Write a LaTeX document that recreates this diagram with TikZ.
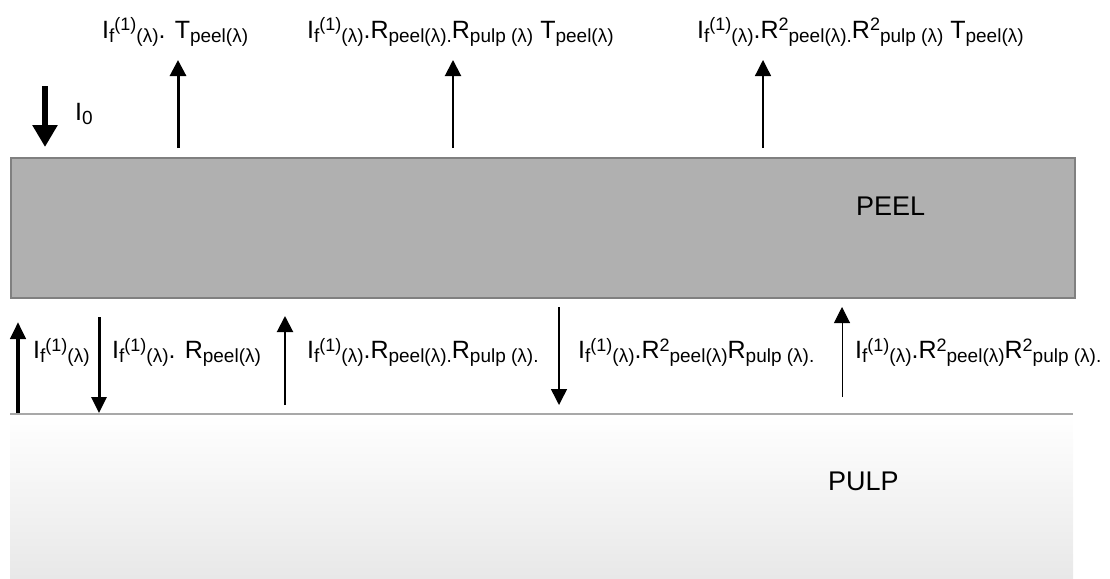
\documentclass[tikz,border=0pt]{standalone}
\usepackage{fontspec}
\setmainfont{Liberation Sans}
\usetikzlibrary{arrows.meta}
\newcommand\lo[1]{\raisebox{-4.5pt}{\fontsize{19}{19}\selectfont #1}}
\newcommand\hi[1]{\raisebox{7pt}{\fontsize{18}{18}\selectfont #1}}
\newcommand\If{I\lo{f}\hi{(1)}\lo{(λ)}}
\definecolor{peelfill}{HTML}{B0B0B0}
\definecolor{peeledge}{HTML}{808080}
\definecolor{pulpline}{HTML}{A8A8A8}
\definecolor{pulpbot}{HTML}{E8E8E8}
\begin{document}
\begin{tikzpicture}[x=1pt,y=-1pt,
  lbl/.style={anchor=base west,inner sep=0pt,font=\fontsize{25}{30}\selectfont},
  big/.style={anchor=base west,inner sep=0pt,font=\fontsize{27}{32}\selectfont},
  ray/.style={line width=#1,-{Triangle[width=16pt,length=16pt]}}]
\useasboundingbox (0,0) rectangle (1110,578);
% pulp
\shade[top color=white,bottom color=pulpbot] (10,414) rectangle (1073,578);
\draw[pulpline,line width=1.5pt] (10,414) -- (1073,414);
% peel
\node[draw=peeledge,fill=peelfill,line width=2pt,inner sep=0pt,minimum width=1064pt,minimum height=140pt,anchor=north west] (peel) at (10,157) {};
\node[big] (peeltxt) at (856,215) {PEEL};
\node[big] (pulptxt) at (828,490) {PULP};
% top incident arrow
\coordinate (i0s) at (45,86);
\coordinate (i0e) at (45,147);
\draw[line width=6pt,-{Triangle[width=24pt,length=22pt]}] (i0s) -- (i0e);
\node[lbl] (i0) at (75,120) {I\lo{0}};
% top arrows
\coordinate (t1s) at (178,148); \coordinate (t1e) at (178,60);
\coordinate (t2s) at (453,148); \coordinate (t2e) at (453,60);
\coordinate (t3s) at (763,148); \coordinate (t3e) at (763,60);
\draw[ray=3pt] (t1s) -- (t1e);
\draw[ray=2pt] (t2s) -- (t2e);
\draw[ray=1.3pt] (t3s) -- (t3e);
\node[lbl] (l1) at (102,38) {\If. T\lo{peel(λ)}};
\node[lbl] (l2) at (307,38) {\If.R\lo{peel(λ).}R\lo{pulp (λ)} T\lo{peel(λ)}};
\node[lbl] (l3) at (697,38) {\If.R\hi{2}\lo{peel(λ).}R\hi{2}\lo{pulp (λ)} T\lo{peel(λ)}};
% bottom arrows
\coordinate (b1s) at (18,413); \coordinate (b1e) at (18,322);
\coordinate (b2s) at (99,317); \coordinate (b2e) at (99,413);
\coordinate (b3s) at (285,405); \coordinate (b3e) at (285,316);
\coordinate (b4s) at (559,307); \coordinate (b4e) at (559,405);
\coordinate (b5s) at (842,397); \coordinate (b5e) at (842,307);
\draw[line width=4pt,-{Triangle[width=15pt,length=17pt]}] (b1s) -- (b1e);
\draw[line width=3pt,-{Triangle[width=15pt,length=16pt]}] (b2s) -- (b2e);
\draw[ray=2pt] (b3s) -- (b3e);
\draw[ray=1.5pt] (b4s) -- (b4e);
\draw[ray=1pt] (b5s) -- (b5e);
\node[lbl] (la) at (33,358) {\If};
\node[lbl] (lb) at (112,358) {\If. R\lo{peel(λ)}};
\node[lbl] (lc) at (307,358) {\If.R\lo{peel(λ).}R\lo{pulp (λ).}};
\node[lbl] (ld) at (578,358) {\If.R\hi{2}\lo{peel(λ)}R\lo{pulp (λ).}};
\node[lbl] (le) at (855,358) {\If.R\hi{2}\lo{peel(λ)}R\hi{2}\lo{pulp (λ).}};
\end{tikzpicture}
\end{document}
